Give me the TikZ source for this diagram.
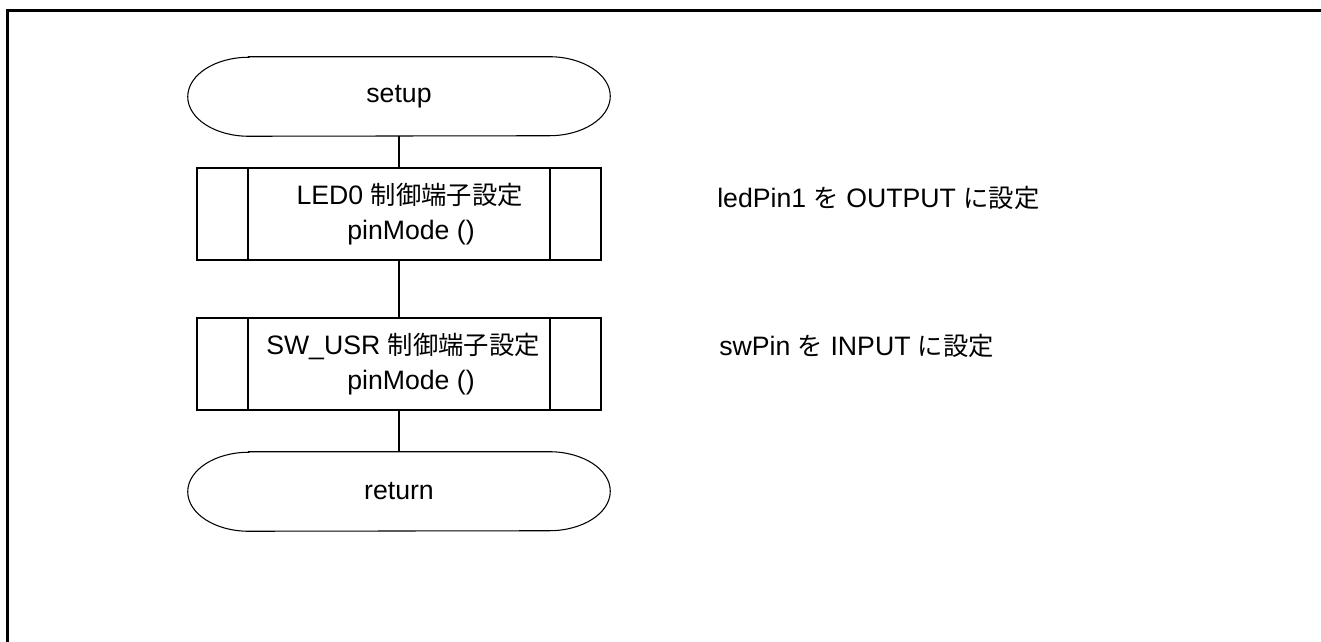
\documentclass[tikz,border=0pt]{standalone}
\usepackage{fontspec}
\setmainfont{Liberation Sans}
\newfontfamily\jp[Scale=0.95]{Noto Sans CJK JP}
\usetikzlibrary{calc}
\begin{document}
\begin{tikzpicture}[x=0.75pt,y=0.75pt]
\tikzstyle{every node}+=[inner sep=0pt,font=\fontsize{20}{26.25}\selectfont]
\tikzstyle{term}=[minimum width=316.5pt,minimum height=59.25pt]
\tikzstyle{subproc}=[draw,line width=0.8pt,minimum width=303pt,minimum height=69pt,align=center,
  path picture={\draw[line width=0.8pt] ([xshift=38.25pt]path picture bounding box.north west) -- ([xshift=38.25pt]path picture bounding box.south west);
  \draw[line width=0.8pt] ([xshift=-38.25pt]path picture bounding box.north east) -- ([xshift=-38.25pt]path picture bounding box.south east);}]
\tikzstyle{note}=[anchor=west]
\useasboundingbox (0,0) rectangle (1321,642);
\draw [line width=2.25pt] (7.5,0) -- (7.5,631.5) -- (1321,631.5);
\node [term] (setup) at (399,545.5) {setup};
\draw [line width=0.8pt] ($(setup.north west)+(61,0)$) -- ($(setup.north east)+(-61,0)$) arc[start angle=90,end angle=-90,x radius=45.75pt,y radius=29.625pt] -- ($(setup.south west)+(61,0)$) arc[start angle=270,end angle=90,x radius=45.75pt,y radius=29.625pt] -- cycle;
\node [subproc] (led) at (399,428) {\hspace*{16pt}LED0 {\jp 制御端子設定}\\\hspace*{18pt}pinMode ()};
\node [subproc] (sw) at (399,278) {\hspace*{6pt}SW\_USR {\jp 制御端子設定}\\\hspace*{18pt}pinMode ()};
\node [term] (ret) at (399,150.5) {return};
\draw [line width=0.8pt] ($(ret.north west)+(61,0)$) -- ($(ret.north east)+(-61,0)$) arc[start angle=90,end angle=-90,x radius=45.75pt,y radius=29.625pt] -- ($(ret.south west)+(61,0)$) arc[start angle=270,end angle=90,x radius=45.75pt,y radius=29.625pt] -- cycle;
\draw [line width=0.8pt] (setup.south) -- (led.north);
\draw [line width=0.8pt] (led.south) -- (sw.north);
\draw [line width=0.8pt] (sw.south) -- (ret.north);
\node [note] (lednote) at (717,444) {ledPin1 {\jp を} OUTPUT {\jp に設定}};
\node [note] (swnote) at (719,296) {swPin {\jp を} INPUT {\jp に設定}};
\end{tikzpicture}
\end{document}
